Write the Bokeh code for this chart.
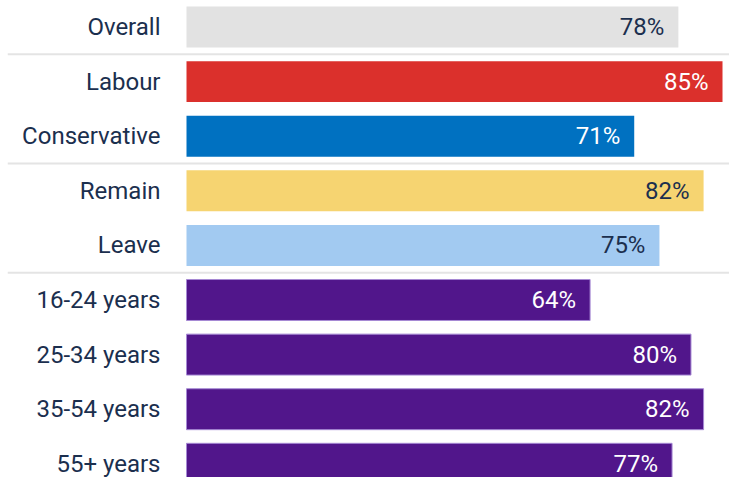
from bokeh.plotting import figure
from bokeh.models import ColumnDataSource, Range1d, Span
from bokeh.core.properties import value
from bokeh.embed import file_html
from bokeh.resources import INLINE

categories = ["Overall", "Labour", "Conservative", "Remain", "Leave",
              "16-24 years", "25-34 years", "35-54 years", "55+ years"]
values = [78, 85, 71, 82, 75, 64, 80, 82, 77]
bar_colors = ["#e2e2e2", "#db302c", "#0071c1", "#f6d471", "#a2caf1",
              "#51168b", "#51168b", "#51168b", "#51168b"]
outline_colors = [None, None, None, None, None,
                  "#a689d4", "#a689d4", "#a689d4", "#a689d4"]
label_colors = ["#1b2f4e", "#ffffff", "#ffffff", "#1b2f4e", "#1b2f4e",
                "#ffffff", "#ffffff", "#ffffff", "#ffffff"]
group_breaks = [0.5, 2.5, 4.5]

pos = list(range(len(categories)))
src = ColumnDataSource(dict(
    y=pos, v=values, cat=categories, color=bar_colors,
    lc=[c if c else "rgba(0,0,0,0)" for c in outline_colors],
    tc=label_colors, txt=[f"{x}%" for x in values],
    zero=[0] * len(values),
))

W, H = 729, 477
px_per = 6.306
frame_left = 7
zero_px = 186
pitch = 54.6
top_px = 26.5

p = figure(width=W, height=H, output_backend="svg", toolbar_location=None,
           x_range=Range1d(-(zero_px - frame_left) / px_per, (W - zero_px) / px_per),
           y_range=Range1d((H - top_px) / pitch, -top_px / pitch),
           min_border=0, min_border_left=frame_left)
p.axis.visible = False
p.grid.visible = False
p.outline_line_color = None
p.background_fill_color = "white"
p.border_fill_color = "white"

for b in group_breaks:
    p.add_layout(Span(location=b, dimension="width", line_color="#e4e4e4", line_width=2))

p.hbar(y="y", left="zero", right="v", height=0.75, source=src,
       fill_color="color", line_color="lc", line_width=1)

p.text(x="zero", y="y", text="cat", source=src, x_offset=-26, y_offset=0,
       text_align="right", text_baseline="middle", text_color="#1b2f4e",
       text_font=value("Roboto"), text_font_size="24px")

p.text(x="v", y="y", text="txt", source=src, x_offset=-14, y_offset=0,
       text_align="right", text_baseline="middle", text_color="tc",
       text_font=value("Roboto"), text_font_size="24px")

open("out.html", "w").write(file_html(p, INLINE))
